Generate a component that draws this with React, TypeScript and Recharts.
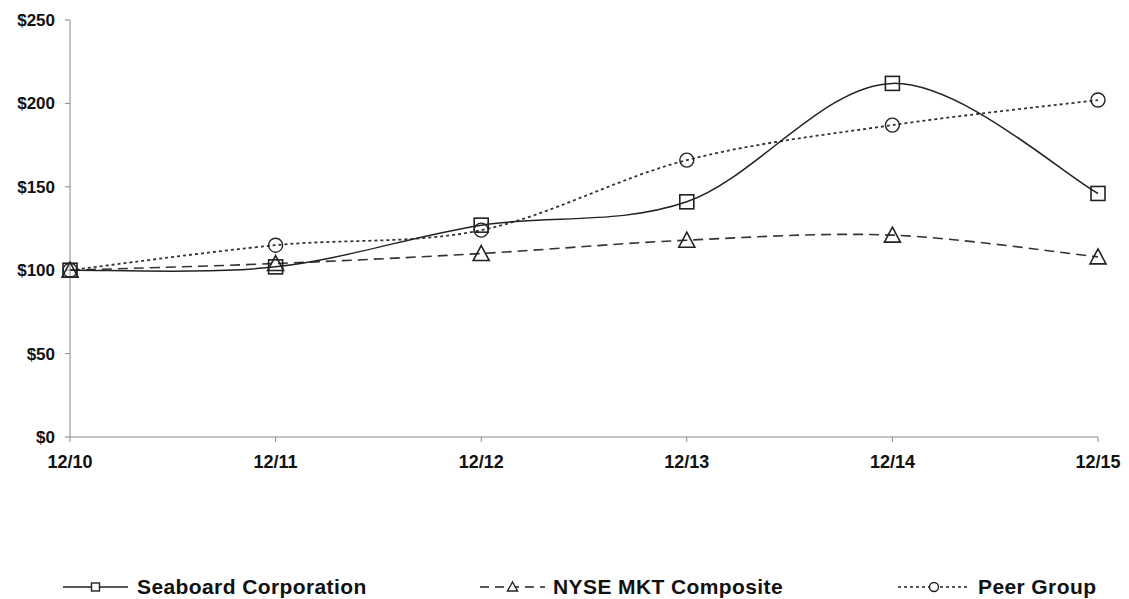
import React from 'react';
import { LineChart, Line, XAxis, YAxis } from 'recharts';

const categories = ['12/10', '12/11', '12/12', '12/13', '12/14', '12/15'];
const seaboard = [100, 102, 127, 141, 212, 146];
const nyse = [100, 104, 110, 118, 121, 108];
const peer = [100, 115, 124, 166, 187, 202];
const yTicks = [0, 50, 100, 150, 200, 250];

const data = categories.map((c, i) => ({ name: c, seaboard: seaboard[i], nyse: nyse[i], peer: peer[i] }));

// Excel-like smoothing (Catmull-Rom with 1/6 factor)
const excelCurve = (context: any) => {
  let pts: number[][] = [];
  return {
    areaStart() {},
    areaEnd() {},
    lineStart() { pts = []; },
    point(x: number, y: number) { pts.push([+x, +y]); },
    lineEnd() {
      const n = pts.length;
      if (n === 0) return;
      context.moveTo(pts[0][0], pts[0][1]);
      for (let i = 0; i < n - 1; i++) {
        const p0 = pts[i - 1] || pts[i];
        const p1 = pts[i];
        const p2 = pts[i + 1];
        const p3 = pts[i + 2] || pts[i + 1];
        const c1x = p1[0] + (p2[0] - p0[0]) / 6;
        const c1y = p1[1] + (p2[1] - p0[1]) / 6;
        const c2x = p2[0] - (p3[0] - p1[0]) / 6;
        const c2y = p2[1] - (p3[1] - p1[1]) / 6;
        context.bezierCurveTo(c1x, c1y, c2x, c2y, p2[0], p2[1]);
      }
    },
  };
};

const INK = '#222';

const Square = (p: any) => (
  <rect key={p.key} x={p.cx - 7} y={p.cy - 7} width={14} height={14} fill="none" stroke={INK} strokeWidth={1.6} />
);
const Tri = (p: any) => (
  <path key={p.key} d={`M${p.cx},${p.cy - 8} L${p.cx + 8},${p.cy + 7} L${p.cx - 8},${p.cy + 7} Z`} fill="none" stroke={INK} strokeWidth={1.6} />
);
const Circ = (p: any) => (
  <circle key={p.key} cx={p.cx} cy={p.cy} r={7} fill="none" stroke={INK} strokeWidth={1.4} />
);

const yTickStyle = { fontFamily: 'Liberation Sans, Arial, sans-serif', fontWeight: 700, fontSize: 17, fill: '#111' };
const xTickStyle = { fontFamily: 'Liberation Sans, Arial, sans-serif', fontWeight: 700, fontSize: 18, fill: '#111' };

const legendItems = [
  { label: 'Seaboard Corporation', dash: undefined as string | undefined, marker: 'square', x: 63, w: 65, tx: 137 },
  { label: 'NYSE MKT Composite', dash: '9 6', marker: 'tri', x: 480, w: 65, tx: 553 },
  { label: 'Peer Group', dash: '3 3', marker: 'circle', x: 898, w: 72, tx: 978 },
];

export default function App() {
  return (
    <div style={{ position: 'absolute', left: 0, top: 0, width: 1129, height: 599, background: '#fff' }}>
      <LineChart width={1129} height={599} data={data} margin={{ top: 20, right: 31, bottom: 132, left: 0 }}>
        <XAxis
          dataKey="name"
          stroke="#888"
          tickLine={{ stroke: '#888' }}
          tickSize={5}
          tick={xTickStyle}
          tickMargin={13}
          height={30}
        />
        <YAxis
          domain={[0, 250]}
          ticks={yTicks}
          stroke="#888"
          tickSize={5}
          tickMargin={10}
          width={70}
          tick={yTickStyle}
          tickFormatter={(v: number) => `$${v}`}
        />
        <Line dataKey="nyse" type={excelCurve as any} stroke="#333" strokeWidth={1.6} strokeDasharray="10 6" dot={Tri} activeDot={false} isAnimationActive={false} />
        <Line dataKey="peer" type={excelCurve as any} stroke="#333" strokeWidth={1.8} strokeDasharray="3 3" dot={Circ} activeDot={false} isAnimationActive={false} />
        <Line dataKey="seaboard" type={excelCurve as any} stroke={INK} strokeWidth={1.5} dot={Square} activeDot={false} isAnimationActive={false} />
      </LineChart>
      {legendItems.map((it) => (
        <React.Fragment key={it.label}>
          <svg style={{ position: 'absolute', left: it.x, top: 577 }} width={it.w} height={20}>
            <line x1={0} y1={10} x2={it.w} y2={10} stroke={INK} strokeWidth={1.6} strokeDasharray={it.dash} />
            {it.marker === 'square' && <rect x={it.w / 2 - 4} y={6} width={8} height={8} fill="#fff" stroke={INK} strokeWidth={1.4} />}
            {it.marker === 'tri' && <path d={`M${it.w / 2},5 L${it.w / 2 + 5},14 L${it.w / 2 - 5},14 Z`} fill="#fff" stroke={INK} strokeWidth={1.4} />}
            {it.marker === 'circle' && <circle cx={it.w / 2} cy={10} r={4.5} fill="#fff" stroke={INK} strokeWidth={1.4} />}
          </svg>
          <div
            style={{
              position: 'absolute',
              left: it.tx,
              top: 573,
              fontFamily: 'Liberation Sans, Arial, sans-serif',
              fontWeight: 700,
              fontSize: 21,
              letterSpacing: 0.4,
              color: '#111',
              whiteSpace: 'nowrap',
              lineHeight: '28px',
            }}
          >
            {it.label}
          </div>
        </React.Fragment>
      ))}
    </div>
  );
}
